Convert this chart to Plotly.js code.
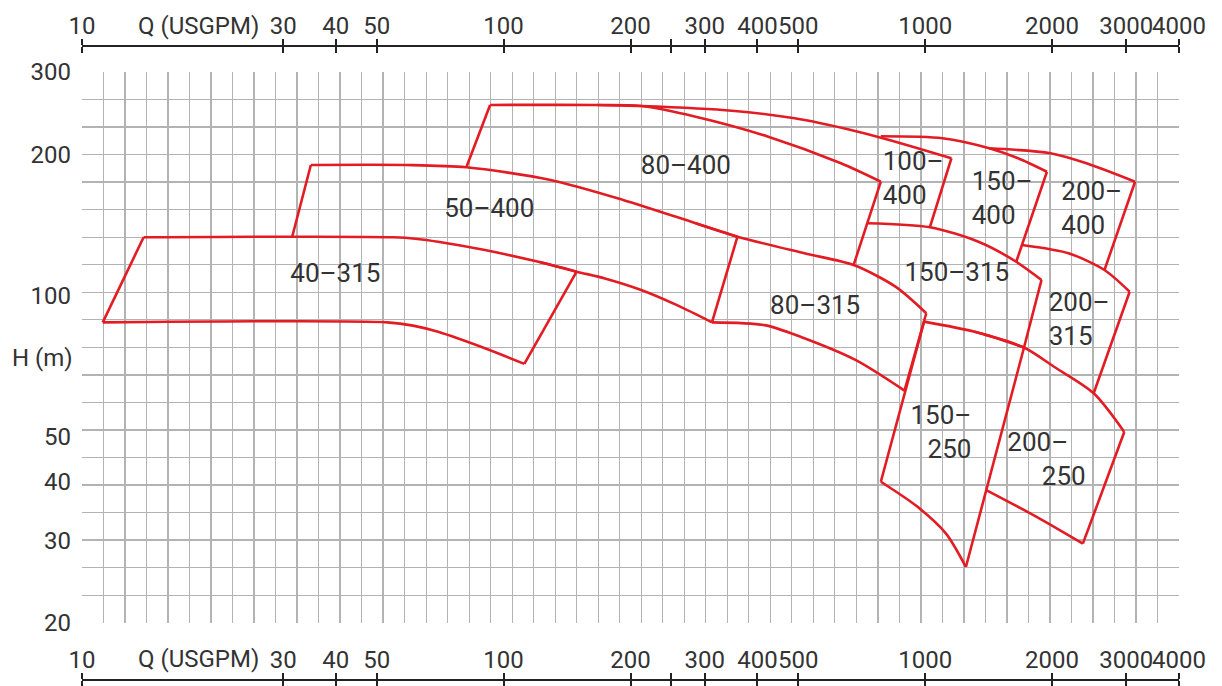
<!DOCTYPE html>
<html>
<head>
<meta charset="utf-8">
<script src="https://cdn.plot.ly/plotly-3.0.1.min.js"></script>
<style>
html,body{margin:0;padding:0;background:#fff;}
#chart{width:1222px;height:686px;}
</style>
</head>
<body>
<div id="chart"></div>
<script>
// Flow Q in USGPM, head H in m

const xTickVals = [10, 30, 40, 50, 100, 200, 250, 300, 400, 500, 1000, 2000, 3000, 4000];
const xTickText = ["10", "30", "40", "50", "100", "200", "", "300", "400", "500", "1000", "2000", "3000", "4000"];
const yTickVals = [20, 30, 40, 50, 100, 200, 300];

// ---- H-Q curves (max / min impeller) of each pump size ----
const max_40_315_Q = [14.0, 54.8, 62.5, 69.9, 90.3, 121.7, 149.0];
const max_40_315_H = [133.1, 133.1, 132.0, 130.2, 125.0, 117.8, 112.4];
const min_40_315_Q = [11.2, 53.0, 61.0, 69.9, 90.3, 112.0];
const min_40_315_H = [87.6, 87.6, 86.2, 83.6, 77.1, 71.4];

const max_50_400_Q = [34.9, 58.7, 81.6, 129.2, 192.1, 285.5, 358.7];
const max_50_400_H = [189.9, 189.9, 187.8, 176.4, 159.9, 142.6, 133.5];
const min_50_400_Q = [121.7, 149.0, 173.9, 212.0, 258.6, 312.1];   // continues the 40-315 max curve
const min_50_400_H = [117.8, 112.4, 108.7, 102.7, 95.2, 87.6];

const max_80_400_Q = [92.9, 166.8, 212.0, 285.5, 424.5, 631.3, 784.9];
const max_80_400_H = [255.1, 255.1, 253.8, 240.8, 218.3, 191.5, 174.9];

const max_80_315_Q = [285.5, 358.7, 517.6, 676.5, 850.1, 1005.9];  // also the lower limit of 80-400
const max_80_315_H = [142.6, 133.5, 123.0, 116.1, 104.4, 91.6];
const min_80_315_Q = [312.1, 416.3, 507.5, 683.3, 893.1];
const min_80_315_H = [87.6, 86.4, 81.5, 72.8, 62.6];

const max_100_400_Q = [166.8, 212.0, 348.2, 517.6, 769.7, 1154.1];
const max_100_400_H = [255.1, 253.8, 248.0, 236.9, 218.3, 196.3];

const max_150_400_Q = [784.9, 1099.0, 1418.8, 1660.9, 1944.5];
const max_150_400_H = [218.7, 216.6, 206.2, 196.3, 183.7];

const max_200_400_Q = [1418.8, 1982.5, 2412.9, 3146.4];
const max_200_400_H = [206.2, 201.2, 191.5, 174.9];

const max_150_315_Q = [730, 1025.7, 1337.6, 1644.3, 1887.7];
const max_150_315_H = [142.6, 139.8, 130.2, 118.0, 107.9];

const max_200_315_Q = [1696.6, 2187.7, 2662.6, 3055.0];
const max_200_315_H = [128.1, 123.0, 113.3, 101.8];

const max_150_250_Q = [994.1, 1311.8, 1715.6];
const max_150_250_H = [87.9, 83.6, 77.4];
const min_150_250_Q = [784.9, 957.5, 1120.6, 1249.1];
const min_150_250_H = [40.0, 35.4, 31.0, 26.3];

const max_200_250_Q = [1311.8, 1715.6, 2021.4, 2510.1, 2966.2];
const max_200_250_H = [83.6, 77.4, 70.4, 61.8, 51.1];
const min_200_250_Q = [1396, 1833.3, 2366.3];
const min_200_250_H = [38.4, 33.7, 29.5];

// ---- straight end limits (pairs of Q,H points, separated by null) ----
const edgeQ = [14.0, 11.2, null, 149.0, 112.0, null, 34.9, 31.5, null, 358.7, 312.1, null,
               92.9, 81.6, null, 784.9, 676.5, null, 1005.9, 893.1, null, 1154.1, 1025.7, null,
               1944.5, 1644.3, null, 3146.4, 2662.6, null, 1887.7, 1715.6, null, 3055.0, 2510.1, null,
               994.1, 784.9, null, 1715.6, 1249.1, null, 2966.2, 2366.3];
const edgeH = [133.1, 87.6, null, 112.4, 71.4, null, 189.9, 133.1, null, 133.5, 87.6, null,
               255.1, 187.8, null, 174.9, 116.1, null, 91.6, 62.6, null, 196.3, 139.8, null,
               183.7, 118.0, null, 174.9, 113.3, null, 107.9, 77.4, null, 101.8, 61.8, null,
               87.9, 40.0, null, 77.4, 26.3, null, 51.1, 29.5];

// ---- model labels ----
const labelText = ["40–315", "50–400", "80–400", "100–<br>400", "150–<br>400", "200–<br>400",
                   "150–315", "80–315", "200–<br>315", "150–<br>250", "200–<br>\u2007\u2007\u2009250"];
const labelQ = [31.2, 72.3, 211.6, 793, 1289, 2103, 893.1, 428.7, 1963, 1287, 1566];
const labelH = [110.1, 151.6, 187.6, 175.7, 159.4, 151.6, 111.1, 94.2, 88.1, 50.5, 44.2];
const labelSide = ["middle right", "middle right", "middle right", "middle right", "middle right", "middle right",
                   "middle right", "middle right", "middle right", "middle left", "middle right"];

// ---------------------------------------------------------------
const FONT = "Roboto, 'Liberation Sans', 'DejaVu Sans', sans-serif";
const RED = '#e31b23';
const TXT = '#333333';
const AX = '#222222';
const GRID = '#b3b3b3';

const curves = [
  [max_40_315_Q, max_40_315_H], [min_40_315_Q, min_40_315_H],
  [max_50_400_Q, max_50_400_H], [min_50_400_Q, min_50_400_H],
  [max_80_400_Q, max_80_400_H],
  [max_80_315_Q, max_80_315_H], [min_80_315_Q, min_80_315_H],
  [max_100_400_Q, max_100_400_H], [max_150_400_Q, max_150_400_H], [max_200_400_Q, max_200_400_H],
  [max_150_315_Q, max_150_315_H], [max_200_315_Q, max_200_315_H],
  [max_150_250_Q, max_150_250_H], [min_150_250_Q, min_150_250_H],
  [max_200_250_Q, max_200_250_H], [min_200_250_Q, min_200_250_H]
];

const traces = curves.map(([q, h]) => ({
  type: 'scatter', mode: 'lines', x: q, y: h, xaxis: 'x', yaxis: 'y',
  line: {color: RED, width: 2.6, shape: 'spline', smoothing: 0.8}, hoverinfo: 'x+y', showlegend: false
}));

traces.push({
  type: 'scatter', mode: 'lines', x: edgeQ, y: edgeH, xaxis: 'x', yaxis: 'y', connectgaps: false,
  line: {color: RED, width: 2.6}, hoverinfo: 'x+y', showlegend: false
});

traces.push({
  type: 'scatter', mode: 'text', x: labelQ, y: labelH, text: labelText,
  textposition: labelSide, cliponaxis: false,
  textfont: {family: FONT, size: 26, color: TXT, weight: 400}, hoverinfo: 'skip', showlegend: false
});

// empty traces that register the extra axes (top axis, cross ticks, graph-paper grid)
['x2', 'x3', 'x4'].forEach(ax => traces.push({type: 'scatter', mode: 'lines', x: [], y: [], xaxis: ax, yaxis: 'y', hoverinfo: 'skip', showlegend: false}));
traces.push({type: 'scatter', mode: 'lines', x: [], y: [], xaxis: 'x5', yaxis: 'y2', hoverinfo: 'skip', showlegend: false});

// layout geometry
const T = 40, B = 2, H = 686;
const PH = H - T - B;
const frac = py => (H - B - py) / PH;

const logRange = [Math.log10(10), Math.log10(4000)];
const tickFont = {family: FONT, size: 24, color: TXT, weight: 400};

const labelAxis = (pos, extra) => Object.assign({
  type: 'log', range: logRange, anchor: 'free', position: pos, side: 'top',
  tickmode: 'array', tickvals: xTickVals, ticktext: xTickText,
  ticks: 'outside', ticklen: 6, tickwidth: 2, tickcolor: AX, ticklabelstandoff: -5,
  showline: true, linecolor: AX, linewidth: 2,
  showgrid: false, zeroline: false, tickangle: 0, tickfont: tickFont, fixedrange: true
}, extra || {});
const crossTickAxis = pos => ({
  type: 'log', range: logRange, anchor: 'free', position: pos, side: 'bottom', overlaying: 'x',
  tickmode: 'array', tickvals: xTickVals, ticks: 'outside', ticklen: 6, tickwidth: 2, tickcolor: AX,
  showticklabels: false, showline: false, showgrid: false, zeroline: false, fixedrange: true
});

const layout = {
  width: 1222, height: 686,
  margin: {l: 82, r: 43, t: T, b: B, pad: 0},
  paper_bgcolor: '#ffffff', plot_bgcolor: '#ffffff',
  showlegend: false,
  font: {family: FONT, size: 25, color: TXT},
  xaxis: labelAxis(frac(680)),
  xaxis2: labelAxis(frac(46), {overlaying: 'x'}),
  xaxis3: crossTickAxis(frac(680)),
  xaxis4: crossTickAxis(frac(46)),
  xaxis5: {
    overlaying: 'x', anchor: 'y2', range: [0, 51], tick0: 0, dtick: 1,
    showgrid: true, gridcolor: GRID, gridwidth: 1.3, showticklabels: false, ticks: '',
    zeroline: false, showline: false, fixedrange: true
  },
  yaxis: {
    type: 'log', domain: [frac(622.7), frac(72)], range: [Math.log10(20), Math.log10(300)],
    anchor: 'x', tickmode: 'array', tickvals: yTickVals, ticks: '',
    showline: false, showgrid: false, zeroline: false, ticklabelstandoff: 10,
    tickfont: tickFont, fixedrange: true
  },
  yaxis2: {
    overlaying: 'y', anchor: 'x5', range: [0, 20], tick0: 0, dtick: 1,
    showgrid: true, gridcolor: GRID, gridwidth: 1.3, showticklabels: false, ticks: '',
    zeroline: false, showline: false, fixedrange: true
  },
  annotations: [
    {xref: 'paper', yref: 'paper', x: (198 - 82) / 1097, y: frac(26), text: 'Q (USGPM)', showarrow: false,
     xanchor: 'center', yanchor: 'middle', font: {family: FONT, size: 24, color: TXT, weight: 400}},
    {xref: 'paper', yref: 'paper', x: (198 - 82) / 1097, y: frac(659), text: 'Q (USGPM)', showarrow: false,
     xanchor: 'center', yanchor: 'middle', font: {family: FONT, size: 24, color: TXT, weight: 400}},
    {xref: 'paper', yref: 'paper', x: (42 - 82) / 1097, y: frac(358), text: 'H (m)', showarrow: false,
     xanchor: 'center', yanchor: 'middle', font: {family: FONT, size: 24, color: TXT, weight: 400}}
  ]
};

Plotly.newPlot('chart', traces, layout, {displayModeBar: false, staticPlot: true});
</script>
</body>
</html>
